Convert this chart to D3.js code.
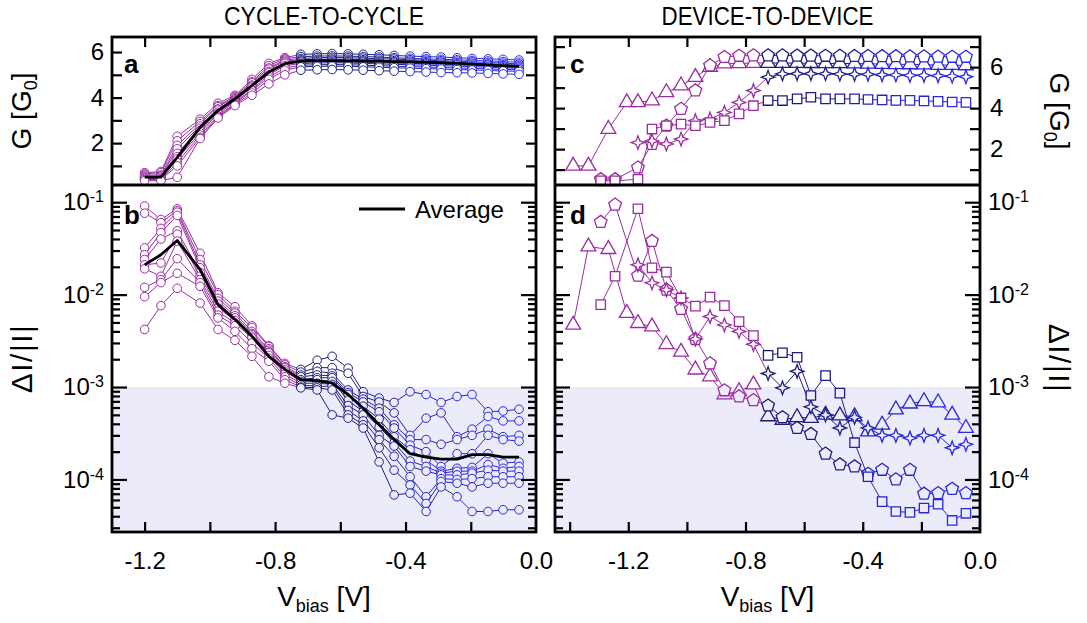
<!DOCTYPE html>
<html>
<head>
<meta charset="utf-8">
<script src="https://cdn.jsdelivr.net/npm/d3@7/dist/d3.min.js"></script>
<style>
html,body{margin:0;padding:0;background:#fff;}
svg text{font-family:"Liberation Sans",Arial,Helvetica,sans-serif;fill:#000;}
</style>
</head>
<body>
<svg id="chart" width="1087" height="623"></svg>
<script>
// ================= DATA =================
const panelTitles = ["CYCLE-TO-CYCLE", "DEVICE-TO-DEVICE"];
const xTickValues = [-1.4, -1.2, -1.0, -0.8, -0.6, -0.4, -0.2, 0.0];
const xLabelValues = [-1.2, -0.8, -0.4, 0.0];
const gTickValues = [1, 2, 3, 4, 5, 6, 7];
const gLabelValues = [2, 4, 6];
const logMajorValues = [1e-1, 1e-2, 1e-3, 1e-4];
const shadeBelow = 1e-3;

// cycle-to-cycle (panels a, b)
const cycleBias = [-1.20,-1.15,-1.10,-1.03,-0.975,-0.923,-0.871,-0.819,-0.770,-0.721,-0.671,-0.625,-0.576,-0.530,-0.481,-0.435,-0.386,-0.337,-0.291,-0.242,-0.196,-0.147,-0.101,-0.052];
const cycleG = [
 [0.70,0.75,2.30,3.05,3.75,4.10,4.80,5.50,5.75,5.90,5.92,5.93,5.92,5.90,5.88,5.85,5.82,5.80,5.78,5.75,5.72,5.70,5.68,5.65],
 [0.65,0.70,2.10,2.95,3.65,4.05,4.70,5.40,5.70,5.80,5.82,5.83,5.82,5.80,5.78,5.75,5.72,5.70,5.68,5.66,5.63,5.61,5.58,5.55],
 [0.60,0.60,1.90,2.85,3.60,4.00,4.65,5.30,5.65,5.72,5.75,5.76,5.75,5.73,5.71,5.69,5.66,5.64,5.62,5.60,5.57,5.54,5.51,5.48],
 [0.55,0.55,1.75,2.75,3.50,3.95,4.55,5.25,5.60,5.66,5.68,5.69,5.68,5.66,5.64,5.62,5.60,5.58,5.56,5.54,5.51,5.48,5.45,5.42],
 [0.50,0.55,1.55,2.65,3.45,3.90,4.50,5.15,5.55,5.61,5.63,5.64,5.63,5.61,5.59,5.57,5.55,5.53,5.51,5.49,5.46,5.43,5.40,5.38],
 [0.50,0.50,1.40,2.55,3.35,3.85,4.45,5.10,5.50,5.56,5.58,5.59,5.58,5.56,5.54,5.52,5.50,5.48,5.46,5.44,5.41,5.38,5.36,5.33],
 [0.45,0.45,1.30,2.45,3.30,3.80,4.35,5.00,5.40,5.50,5.52,5.53,5.52,5.50,5.48,5.46,5.44,5.42,5.40,5.38,5.36,5.33,5.31,5.28],
 [0.40,0.40,1.15,2.35,3.20,3.75,4.30,4.90,5.30,5.42,5.44,5.45,5.44,5.42,5.40,5.38,5.36,5.34,5.32,5.30,5.28,5.26,5.24,5.22],
 [0.40,0.40,1.00,2.25,3.15,3.70,4.20,4.80,5.20,5.35,5.37,5.38,5.37,5.35,5.33,5.31,5.29,5.27,5.25,5.23,5.21,5.19,5.17,5.15],
 [0.35,0.35,0.50,2.20,3.10,3.65,4.10,4.60,5.00,5.20,5.22,5.23,5.22,5.20,5.18,5.16,5.14,5.12,5.10,5.09,5.08,5.06,5.04,5.02]
];
const cycleNoise = [
 [9.1e-2,6.5e-2,8.5e-2,2.8e-2,1.05e-2,7.4e-3,4.6e-3,2.8e-3,1.8e-3,1.55e-3,1.95e-3,2.15e-3,1.6e-3,8.9e-4,7.6e-4,6.8e-4,8.9e-4,8.3e-4,6.8e-4,7.9e-4,8.3e-4,5.4e-4,5.5e-4,5.75e-4],
 [7.6e-2,6.0e-2,8.1e-2,2.4e-2,1.0e-2,6.6e-3,4.4e-3,2.75e-3,1.74e-3,1.45e-3,1.62e-3,1.62e-3,1.41e-3,7.9e-4,6.9e-4,5.25e-4,3.0e-4,4.6e-4,5.25e-4,2.9e-4,3.5e-4,4.8e-4,4.3e-4,4.3e-4],
 [3.2e-2,5.2e-2,7.8e-2,2.1e-2,9.1e-3,6.3e-3,4.0e-3,2.6e-3,1.66e-3,1.35e-3,1.48e-3,1.41e-3,9.3e-4,7.4e-4,5.9e-4,3.9e-4,2.7e-4,2.7e-4,2.4e-4,2.7e-4,3.0e-4,3.5e-4,2.9e-4,3.0e-4],
 [2.7e-2,4.7e-2,7.2e-2,1.95e-2,8.5e-3,5.9e-3,3.8e-3,2.5e-3,1.62e-3,1.29e-3,1.35e-3,1.32e-3,8.7e-4,6.9e-4,5.4e-4,3.6e-4,2.35e-4,2.0e-4,1.38e-4,1.9e-4,1.9e-4,3.0e-4,2.7e-4,2.6e-4],
 [2.4e-2,4.0e-2,4.9e-2,1.74e-2,7.9e-3,5.6e-3,3.7e-3,2.4e-3,1.55e-3,1.2e-3,1.26e-3,1.26e-3,8.3e-4,6.2e-4,4.5e-4,2.9e-4,2.1e-4,1.62e-4,1.23e-4,1.32e-4,1.35e-4,1.9e-4,1.5e-4,1.55e-4],
 [2.1e-2,2.2e-2,4.5e-2,1.58e-2,7.2e-3,5.25e-3,3.55e-3,2.35e-3,1.48e-3,1.15e-3,1.2e-3,1.15e-3,7.2e-4,5.4e-4,3.7e-4,2.5e-4,1.58e-4,1.38e-4,1.17e-4,1.23e-4,1.23e-4,1.45e-4,1.32e-4,1.38e-4],
 [1.9e-2,1.58e-2,3.8e-2,1.45e-2,6.6e-3,4.9e-3,3.4e-3,2.2e-3,1.38e-3,1.1e-3,1.1e-3,1.07e-3,6.3e-4,5.0e-4,3.0e-4,2.3e-4,1.38e-4,1.23e-4,1.12e-4,1.12e-4,1.17e-4,1.26e-4,1.23e-4,1.23e-4],
 [1.2e-2,1.45e-2,2.45e-2,1.35e-2,6.0e-3,4.6e-3,3.0e-3,2.05e-3,1.29e-3,1.05e-3,1.02e-3,1.02e-3,5.6e-4,4.3e-4,2.7e-4,1.78e-4,1.07e-4,6.5e-5,1.02e-4,1.0e-4,1.02e-4,1.07e-4,1.07e-4,1.07e-4],
 [9.5e-3,1.35e-2,1.7e-2,1.23e-2,5.6e-3,4.0e-3,2.6e-3,1.9e-3,1.2e-3,1.0e-3,9.8e-4,9.3e-4,5.0e-4,3.9e-4,2.2e-4,1.26e-4,8.7e-5,5.5e-5,9.5e-5,9.1e-5,8.3e-5,9.1e-5,9.1e-5,9.1e-5],
 [4.2e-3,7.6e-3,1.17e-2,8.1e-3,4.2e-3,3.2e-3,2.15e-3,1.29e-3,1.1e-3,9.8e-4,9.3e-4,5.0e-4,4.6e-4,3.6e-4,1.55e-4,6.8e-5,7.1e-5,4.5e-5,8.3e-5,6.5e-5,4.5e-5,4.5e-5,4.7e-5,4.7e-5]
];
const averageG = [0.51,0.51,1.37,2.69,3.43,3.94,4.53,5.12,5.49,5.60,5.62,5.62,5.61,5.60,5.60,5.58,5.57,5.55,5.53,5.50,5.47,5.44,5.40,5.37];
const averageNoise = [2.1e-2,2.7e-2,3.85e-2,1.87e-2,7.8e-3,5.4e-3,3.55e-3,2.15e-3,1.55e-3,1.2e-3,1.17e-3,1.1e-3,8.3e-4,5.9e-4,3.9e-4,2.7e-4,1.9e-4,1.74e-4,1.66e-4,1.66e-4,1.86e-4,1.86e-4,1.74e-4,1.74e-4];

// device-to-device (panels c, d)
const triBias = [-1.388,-1.336,-1.268,-1.205,-1.167,-1.119,-1.070,-1.020,-0.971,-0.921,-0.872,-0.822,-0.773,-0.723,-0.674,-0.624,-0.577,-0.527,-0.478,-0.428,-0.382,-0.334,-0.287,-0.239,-0.191,-0.143,-0.095,-0.048];
const triG = [1.18,1.18,2.98,4.28,4.28,4.37,4.77,5.10,5.51,6.00,6.17,6.18,6.20,6.20,6.20,6.20,6.19,6.18,6.18,6.17,6.16,6.15,6.14,6.13,6.12,6.10,6.10,6.08];
const triNoise = [4.7e-3,3.3e-2,3.1e-2,6.3e-3,4.9e-3,4.5e-3,2.9e-3,2.4e-3,1.54e-3,1.3e-3,8.3e-4,9.0e-4,1.06e-3,4.8e-4,4.4e-4,4.7e-4,4.6e-4,5.0e-4,4.9e-4,4.8e-4,3.3e-4,3.9e-4,5.7e-4,6.6e-4,7.0e-4,6.8e-4,5.0e-4,3.6e-4];

const pentBias = [-1.294,-1.245,-1.167,-1.119,-1.070,-1.020,-0.971,-0.921,-0.872,-0.822,-0.773,-0.723,-0.674,-0.624,-0.577,-0.527,-0.478,-0.428,-0.382,-0.334,-0.287,-0.239,-0.191,-0.143,-0.095,-0.048];
const pentG = [0.53,0.53,1.10,2.25,3.14,3.96,4.86,6.08,6.49,6.55,6.57,6.57,6.57,6.56,6.56,6.55,6.55,6.54,6.54,6.53,6.53,6.52,6.52,6.51,6.50,6.50];
const pentNoise = [6.1e-2,9.4e-2,1.6e-2,3.8e-2,1.13e-2,7.0e-3,3.3e-3,1.8e-3,9.2e-4,7.9e-4,7.2e-4,6.3e-4,4.7e-4,3.6e-4,3.1e-4,1.9e-4,1.45e-4,1.38e-4,1.15e-4,1.27e-4,1.0e-4,1.27e-4,7.0e-5,7.1e-5,7.9e-5,7.1e-5];

const starBias = [-1.167,-1.119,-1.070,-1.020,-0.971,-0.921,-0.872,-0.822,-0.773,-0.723,-0.674,-0.624,-0.577,-0.527,-0.478,-0.428,-0.382,-0.334,-0.287,-0.239,-0.191,-0.143,-0.095,-0.048];
const starG = [2.32,2.40,2.25,2.49,3.39,3.47,3.79,4.28,4.86,5.51,5.67,5.68,5.68,5.68,5.66,5.65,5.65,5.63,5.62,5.60,5.60,5.58,5.56,5.53];
const starNoise = [2.1e-2,1.34e-2,1.13e-2,9.2e-3,3.3e-3,5.8e-3,4.7e-3,4.0e-3,2.9e-3,1.4e-3,9.8e-4,1.48e-3,6.1e-4,5.0e-4,3.6e-4,4.7e-4,3.6e-4,3.0e-4,3.0e-4,2.8e-4,3.0e-4,3.0e-4,2.2e-4,2.4e-4];

const sqBias = [-1.294,-1.245,-1.167,-1.119,-1.070,-1.020,-0.971,-0.921,-0.872,-0.822,-0.773,-0.723,-0.674,-0.624,-0.577,-0.527,-0.478,-0.428,-0.382,-0.334,-0.287,-0.239,-0.191,-0.143,-0.095,-0.048];
const sqG = [0.45,0.45,0.53,2.98,3.14,3.22,3.14,3.30,3.39,3.72,4.12,4.37,4.37,4.45,4.53,4.45,4.45,4.45,4.42,4.40,4.38,4.38,4.35,4.33,4.30,4.28];
const sqNoise = [7.8e-3,1.58e-2,8.5e-2,1.95e-2,1.75e-2,9.2e-3,7.5e-3,9.4e-3,7.6e-3,5.1e-3,3.6e-3,2.2e-3,2.35e-3,2.1e-3,8.1e-4,1.33e-3,8.6e-4,2.5e-4,1.07e-4,5.75e-5,4.5e-5,4.4e-5,4.9e-5,5.4e-5,3.6e-5,4.3e-5];

// ================= LAYOUT =================
const T = 37, M = 185, B = 532;
const L1 = 112, R1 = 536, L2 = 555, R2 = 980;
const SHADE = "#ebebfa";
const FRAME_W = 2.8, TICK_W = 2.2;

const xL = d3.scaleLinear().domain([-1.3, 0]).range([L1, R1]);
const xR = d3.scaleLinear().domain([-1.45, 0]).range([L2, R2]);
const yA = d3.scaleLinear().domain([0.16, 6.66]).range([M, T]);
const yC = d3.scaleLinear().domain([0.25, 7.47]).range([M, T]);
const yLog = d3.scaleLog().domain([2.7e-5, 0.1535]).range([B, M]);

const blueRamp = d3.scaleLinear().domain([-0.75, -0.47, -0.38, 0])
  .range(["#1b1b78", "#1e1e8c", "#2424c4", "#2b2bf2"]).clamp(true);
const colorFor = v => v < -0.75 ? "#9a2ca2" : blueRamp(v);

const svg = d3.select("#chart");

// custom symbols
const symPentagon = {
  draw(ctx, size) {
    const r = Math.sqrt(size / 2.378);
    for (let i = 0; i < 5; i++) {
      const a = -Math.PI / 2 + i * 2 * Math.PI / 5;
      const x = r * Math.cos(a), y = r * Math.sin(a);
      if (i === 0) ctx.moveTo(x, y); else ctx.lineTo(x, y);
    }
    ctx.closePath();
  }
};
const symStar4 = {
  draw(ctx, size) {
    const r = Math.sqrt(size), ri = r * 0.38;
    for (let i = 0; i < 8; i++) {
      const a = -Math.PI / 2 + i * Math.PI / 4;
      const rr = i % 2 ? ri : r;
      const x = rr * Math.cos(a), y = rr * Math.sin(a);
      if (i === 0) ctx.moveTo(x, y); else ctx.lineTo(x, y);
    }
    ctx.closePath();
  }
};

// ================= BACKGROUND SHADING =================
[[L1, R1], [L2, R2]].forEach(([a, b]) => {
  svg.append("rect").attr("x", a).attr("y", yLog(shadeBelow))
    .attr("width", b - a).attr("height", B - yLog(shadeBelow)).attr("fill", SHADE);
});

// ================= SERIES =================
function drawSeries(xs, ys, xS, yS, sym, size, sw, isLog) {
  const g = svg.append("g");
  const pts = xs.map((v, i) => ({ v, y: ys[i] }));
  g.selectAll("line").data(d3.pairs(pts)).join("line")
    .attr("x1", d => xS(d[0].v)).attr("y1", d => yS(d[0].y))
    .attr("x2", d => xS(d[1].v)).attr("y2", d => yS(d[1].y))
    .attr("stroke", d => colorFor(d[0].v)).attr("stroke-width", 1);
  g.selectAll("path").data(pts).join("path")
    .attr("transform", d => `translate(${xS(d.v)},${yS(d.y)})`)
    .attr("d", d3.symbol().type(sym).size(size))
    .attr("fill", d => (isLog && d.y < shadeBelow) ? SHADE : "#fff")
    .attr("stroke", d => colorFor(d.v)).attr("stroke-width", sw);
}

cycleG.forEach(s => drawSeries(cycleBias, s, xL, yA, d3.symbolCircle, 58, 1, false));
cycleNoise.forEach(s => drawSeries(cycleBias, s, xL, yLog, d3.symbolCircle, 58, 1, true));

const devices = [
  [triBias, triG, triNoise, d3.symbolTriangle, 95],
  [pentBias, pentG, pentNoise, symPentagon, 105],
  [starBias, starG, starNoise, symStar4, 46],
  [sqBias, sqG, sqNoise, d3.symbolSquare, 88]
];
devices.forEach(([bx, g, n, sym, sz]) => {
  drawSeries(bx, g, xR, yC, sym, sz, 1.3, false);
  drawSeries(bx, n, xR, yLog, sym, sz, 1.3, true);
});

// averages
const avgLineG = d3.line().x((d, i) => xL(cycleBias[i])).y(d => yA(d));
const avgLineN = d3.line().x((d, i) => xL(cycleBias[i])).y(d => yLog(d));
svg.append("path").attr("d", avgLineG(averageG)).attr("fill", "none").attr("stroke", "#000").attr("stroke-width", 2.8).attr("stroke-linejoin", "round");
svg.append("path").attr("d", avgLineN(averageNoise)).attr("fill", "none").attr("stroke", "#000").attr("stroke-width", 2.8).attr("stroke-linejoin", "round");

// ================= AXES =================
function styleAxis(g, fs) {
  g.select(".domain").remove();
  g.attr("font-family", null).attr("font-size", null);
  g.selectAll(".tick line").attr("stroke", "#000").attr("stroke-width", TICK_W);
  g.selectAll(".tick text").attr("font-size", fs + "px").attr("fill", "#000");
}
const fmtX = v => xLabelValues.some(l => Math.abs(l - v) < 1e-9) ? v.toFixed(1) : "";
const fmtG = v => gLabelValues.includes(v) ? String(v) : "";

function logMinors(scale) {
  const [lo, hi] = scale.domain();
  const out = [];
  for (let e = -5; e <= 0; e++) for (let m = 2; m <= 9; m++) {
    const v = m * Math.pow(10, e);
    if (v > lo && v < hi) out.push(v);
  }
  return out;
}
function supLabels(g) {
  g.selectAll(".tick text").each(function (d) {
    const t = d3.select(this);
    const e = Math.round(Math.log10(d));
    t.text(null);
    t.append("tspan").text("10");
    t.append("tspan").attr("dy", "-0.5em").attr("font-size", "16px").text(String(e));
  });
}

[[xL, L1, R1, false], [xR, L2, R2, true]].forEach(([xs, l, r, rightSide]) => {
  const ticks = xTickValues.filter(v => v >= xs.domain()[0] - 1e-9 && v <= 1e-9);
  svg.append("g").attr("transform", `translate(0,${T})`)
    .call(d3.axisTop(xs).tickValues(ticks.filter(v => v < -1e-9)).tickSize(-10).tickFormat(""))
    .call(g => styleAxis(g, 24));
  svg.append("g").attr("transform", `translate(0,${B})`)
    .call(d3.axisBottom(xs).tickValues(ticks).tickSize(-10).tickPadding(20).tickFormat(fmtX))
    .call(g => styleAxis(g, 24))
    .call(g => g.selectAll(".tick line").filter(d => Math.abs(d) < 1e-9).remove());

  const yG = rightSide ? yC : yA;
  const gTicks = gTickValues.filter(v => v > yG.domain()[0] && v < yG.domain()[1]);
  const majors = logMajorValues;
  const minors = logMinors(yLog);

  svg.append("g").attr("transform", `translate(${l},0)`)
    .call(d3.axisLeft(yG).tickValues(gTicks).tickSize(-10).tickPadding(8).tickFormat(rightSide ? "" : fmtG))
    .call(g => styleAxis(g, 24));
  svg.append("g").attr("transform", `translate(${l},0)`)
    .call(d3.axisLeft(yLog).tickValues(minors).tickSize(-8).tickFormat(""))
    .call(g => styleAxis(g, 24));
  svg.append("g").attr("transform", `translate(${l},0)`)
    .call(d3.axisLeft(yLog).tickValues(majors).tickSize(-15).tickPadding(8).tickFormat(rightSide ? "" : (d => "x")))
    .call(g => styleAxis(g, 24))
    .call(g => { if (!rightSide) supLabels(g); });

  svg.append("g").attr("transform", `translate(${r},0)`)
    .call(d3.axisRight(yG).tickValues(gTicks).tickSize(-10).tickPadding(10).tickFormat(rightSide ? fmtG : ""))
    .call(g => styleAxis(g, 24));
  svg.append("g").attr("transform", `translate(${r},0)`)
    .call(d3.axisRight(yLog).tickValues(minors).tickSize(-8).tickFormat(""))
    .call(g => styleAxis(g, 24));
  svg.append("g").attr("transform", `translate(${r},0)`)
    .call(d3.axisRight(yLog).tickValues(majors).tickSize(-15).tickPadding(8).tickFormat(rightSide ? (d => "x") : ""))
    .call(g => styleAxis(g, 24))
    .call(g => { if (rightSide) supLabels(g); });

  svg.append("rect").attr("x", l).attr("y", T).attr("width", r - l).attr("height", B - T)
    .attr("fill", "none").attr("stroke", "#000").attr("stroke-width", FRAME_W);
  svg.append("line").attr("x1", l).attr("x2", r).attr("y1", M).attr("y2", M)
    .attr("stroke", "#000").attr("stroke-width", FRAME_W);
});

// ================= TEXT =================
svg.append("text").attr("x", (L1 + R1) / 2).attr("y", 25).attr("text-anchor", "middle")
  .style("font-family", '"Liberation Sans Narrow","Liberation Sans",Arial,sans-serif')
  .attr("font-size", "26px").attr("textLength", 200).attr("lengthAdjust", "spacingAndGlyphs")
  .text(panelTitles[0]);
svg.append("text").attr("x", (L2 + R2) / 2).attr("y", 25).attr("text-anchor", "middle")
  .style("font-family", '"Liberation Sans Narrow","Liberation Sans",Arial,sans-serif')
  .attr("font-size", "26px").attr("textLength", 212).attr("lengthAdjust", "spacingAndGlyphs")
  .text(panelTitles[1]);

[["a", 124, 73], ["b", 124, 224], ["c", 570, 73], ["d", 570, 224]].forEach(([t, x, y]) => {
  svg.append("text").attr("x", x).attr("y", y).attr("font-size", "26px").attr("font-weight", "bold").text(t);
});

[(L1 + R1) / 2, (L2 + R2) / 2].forEach(cx => {
  const t = svg.append("text").attr("x", cx).attr("y", 606).attr("text-anchor", "middle").attr("font-size", "28px");
  t.append("tspan").text("V");
  t.append("tspan").attr("font-size", "18px").attr("dy", "6").text("bias");
  t.append("tspan").attr("dy", "-6").text(" [V]");
});

function gLabel(x, y, rot) {
  const t = svg.append("text").attr("transform", `translate(${x},${y}) rotate(${rot})`)
    .attr("text-anchor", "middle").attr("font-size", "28px");
  t.append("tspan").text("G [G");
  t.append("tspan").attr("font-size", "18px").attr("dy", "6").text("0");
  t.append("tspan").attr("dy", "-6").text("]");
}
function nLabel(x, y, rot) {
  svg.append("text").attr("transform", `translate(${x},${y}) rotate(${rot})`)
    .attr("text-anchor", "middle").attr("font-size", "30px").attr("letter-spacing", "1.5px")
    .text("\u0394I/|I|");
}
gLabel(31, (T + M) / 2, -90);
nLabel(32, (M + B) / 2, -90);
gLabel(1050, (T + M) / 2, 90);
nLabel(1049, (M + B) / 2, 90);

svg.append("line").attr("x1", 359).attr("x2", 405).attr("y1", 209).attr("y2", 209)
  .attr("stroke", "#000").attr("stroke-width", 2.8);
svg.append("text").attr("x", 415).attr("y", 218).attr("font-size", "24px").text("Average");
</script>
</body>
</html>
